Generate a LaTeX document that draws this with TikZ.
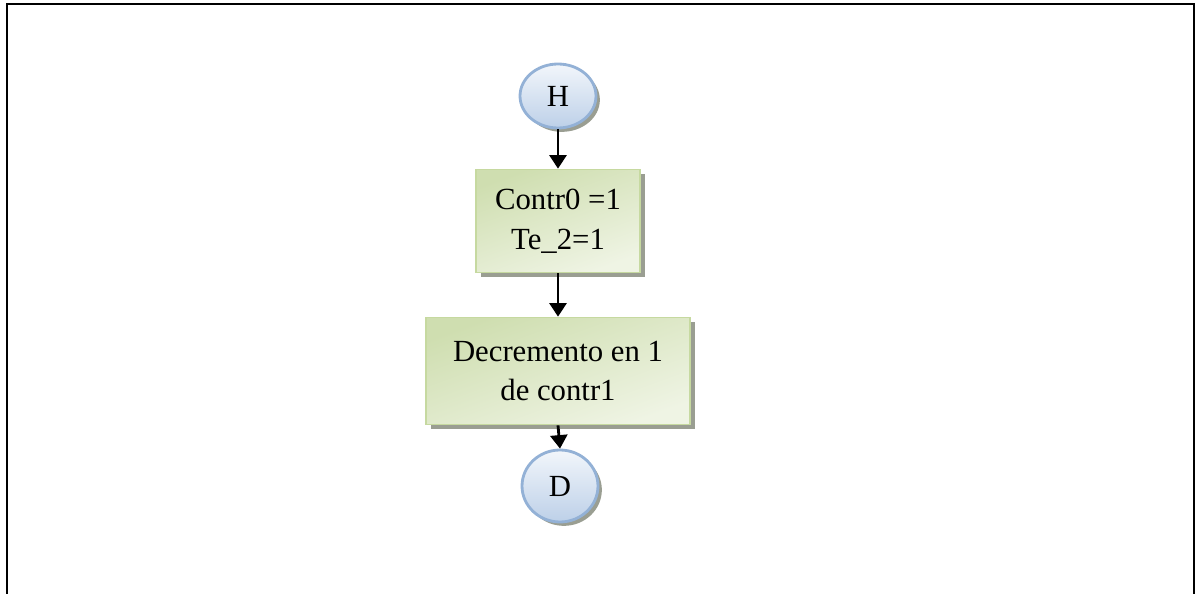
\documentclass[tikz,border=0pt]{standalone}
\usepackage{fontspec}
\setmainfont{Liberation Serif}
\usetikzlibrary{arrows.meta, positioning, shapes.geometric, shadows}
\definecolor{cBoxTop}{HTML}{CFDEB0}
\definecolor{cBoxBot}{HTML}{EFF4E4}
\definecolor{cBoxLine}{HTML}{C6D9A0}
\definecolor{cConTop}{HTML}{F2F6FB}
\definecolor{cConBot}{HTML}{BDD0E8}
\definecolor{cConLine}{HTML}{93B1D6}
\definecolor{cShadow}{HTML}{9A9E92}
\tikzset{
  font=\fontsize{17.5}{22.5}\selectfont,
  process/.style={rectangle, draw=cBoxLine, line width=1pt,
    top color=cBoxTop, bottom color=cBoxBot, shading angle=20,
    align=center, inner sep=0pt,
    drop shadow={shadow xshift=2.6pt, shadow yshift=-2.6pt, fill=cShadow, opacity=1}},
  connector/.style={ellipse, draw=cConLine, line width=1.6pt,
    top color=cConTop, bottom color=cConBot,
    minimum width=2.1cm, inner sep=0pt,
    drop shadow={shadow xshift=2.2pt, shadow yshift=-2.2pt, fill=cShadow, opacity=1}},
  flow/.style={-{Triangle[length=0.27cm, width=0.34cm]}, line width=1.6pt, draw=black},
}

\begin{document}
\begin{tikzpicture}[x=0.02cm, y=-0.02cm]

  % page frame, open at the bottom
  \useasboundingbox (0,0) rectangle (1204,594);
  \draw[line width=1.3pt] (7,594) -- (7,4) -- (1194,4) -- (1194,594);

  % ------------------------------------------------------------------
  % connectors and process boxes
  % ------------------------------------------------------------------
  \node[connector, minimum width=1.52cm, minimum height=1.28cm] (conH) at (558,96) {H};

  \node[process, minimum width=3.28cm, minimum height=2.06cm] (init) at (558,221)
    {Contr0 =1\\ Te\_2=1};

  \node[process, minimum width=5.28cm, minimum height=2.14cm] (decr) at (558,371)
    {Decremento en 1\\ de contr1};

  \node[connector, minimum width=1.52cm, minimum height=1.44cm] (conD) at (560,486) {D};

  % ------------------------------------------------------------------
  % arrows
  % ------------------------------------------------------------------
  \draw[flow] (conH.south) -- (init.north);
  \draw[flow] (init.south) -- (decr.north);
  \draw[flow] (decr.south) -- (conD.north);

\end{tikzpicture}
\end{document}
